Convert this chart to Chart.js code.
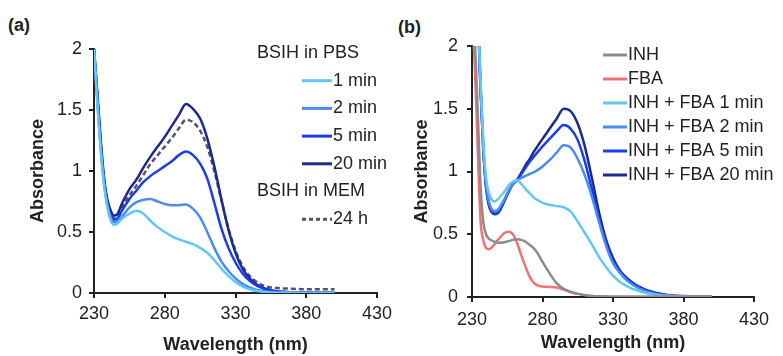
<!DOCTYPE html>
<html>
<head>
<meta charset="utf-8">
<script src="https://cdn.jsdelivr.net/npm/chart.js@4.4.1/dist/chart.umd.min.js"></script>
<style>
  html, body { margin: 0; padding: 0; background: #fff; width: 783px; height: 356px; overflow: hidden;
    font-family: 'Liberation Sans', Arial, sans-serif; }
  canvas { position: absolute; top: 0; }
  .tag { position: absolute; font-weight: bold; font-size: 18px; color: #222; line-height: 20px; }
</style>
</head>
<body>
<div class="tag" style="left:8px;top:15px">(a)</div>
<div class="tag" style="left:398px;top:17px">(b)</div>
<canvas id="chartA" width="420" height="356" style="left:0"></canvas>
<canvas id="chartB" width="413" height="356" style="left:370px"></canvas>
<script>
// ---- data, panel (a): BSIH
const wlA = [230, 232, 234, 236, 238, 240, 242, 244, 246, 250, 255, 260, 265, 270, 275, 280, 285, 290,
  295, 300, 305, 310, 315, 320, 325, 330, 335, 340, 345, 350, 355, 360, 370, 380, 390, 400];
const pbs1min = [2.0, 1.62, 1.28, 1.0, 0.8, 0.67, 0.59, 0.56, 0.565, 0.61, 0.65, 0.675, 0.65, 0.59, 0.54, 0.5, 0.465, 0.44,
  0.42, 0.4, 0.37, 0.33, 0.27, 0.2, 0.14, 0.09, 0.055, 0.03, 0.016, 0.009, 0.005, 0.003, 0.002, 0.001, 0.001, 0.001];
const pbs2min = [2.0, 1.64, 1.3, 1.02, 0.82, 0.69, 0.61, 0.58, 0.585, 0.63, 0.7, 0.745, 0.765, 0.77, 0.75, 0.73, 0.72, 0.72,
  0.725, 0.69, 0.62, 0.5, 0.37, 0.26, 0.18, 0.12, 0.075, 0.045, 0.025, 0.015, 0.008, 0.005, 0.003, 0.002, 0.002, 0.002];
const pbs5min = [2.0, 1.66, 1.32, 1.04, 0.84, 0.71, 0.63, 0.6, 0.605, 0.68, 0.77, 0.84, 0.91, 0.96, 1.0, 1.04, 1.08, 1.13,
  1.16, 1.13, 1.06, 0.94, 0.74, 0.53, 0.37, 0.25, 0.16, 0.1, 0.06, 0.035, 0.02, 0.012, 0.006, 0.004, 0.003, 0.003];
const pbs20min = [2.0, 1.7, 1.38, 1.08, 0.86, 0.74, 0.67, 0.635, 0.64, 0.74, 0.85, 0.93, 1.03, 1.12, 1.2, 1.28, 1.37, 1.46,
  1.55, 1.51, 1.43, 1.27, 1.04, 0.77, 0.52, 0.33, 0.2, 0.12, 0.07, 0.04, 0.022, 0.012, 0.006, 0.004, 0.003, 0.003];
const mem24h = [2.0, 1.68, 1.35, 1.06, 0.85, 0.73, 0.65, 0.615, 0.62, 0.71, 0.8, 0.88, 0.97, 1.06, 1.13, 1.2, 1.27, 1.35,
  1.42, 1.4, 1.33, 1.2, 1.0, 0.76, 0.53, 0.35, 0.22, 0.14, 0.09, 0.06, 0.045, 0.04, 0.035, 0.03, 0.03, 0.03];

// ---- data, panel (b): INH + FBA
const wlB = [230, 232, 234, 236, 238, 240, 242, 244, 246, 248, 250, 253, 256, 259, 262, 265, 268, 271, 274, 277,
  280, 285, 290, 295, 300, 305, 310, 315, 320, 325, 330, 335, 340, 345, 350, 355, 360, 370, 380, 390, 400];
const inh = [2.4, 2.05, 1.5, 0.9, 0.6, 0.5, 0.465, 0.45, 0.44, 0.435, 0.433, 0.437, 0.445, 0.455, 0.46, 0.455, 0.44, 0.415, 0.385, 0.34,
  0.28, 0.19, 0.11, 0.065, 0.04, 0.025, 0.015, 0.008, 0.005, 0.003, 0.002, 0.001, 0.001, 0.001, 0.001, 0.001, 0.001, 0.001, 0.001, 0.001, 0.001];
const fba = [2.2, 1.85, 1.2, 0.62, 0.45, 0.39, 0.38, 0.395, 0.42, 0.45, 0.475, 0.51, 0.52, 0.5, 0.43, 0.33, 0.24, 0.16, 0.11, 0.09,
  0.083, 0.08, 0.075, 0.06, 0.04, 0.025, 0.015, 0.008, 0.004, 0.003, 0.002, 0.001, 0.001, 0.001, 0.001, 0.001, 0.001, 0.001, 0.001, 0.001, 0.001];
const mix1min = [3.0, 2.7, 2.3, 1.75, 1.25, 0.95, 0.83, 0.775, 0.76, 0.775, 0.8, 0.84, 0.89, 0.92, 0.93, 0.9, 0.86, 0.825, 0.79, 0.77,
  0.75, 0.735, 0.725, 0.715, 0.68, 0.6, 0.51, 0.42, 0.32, 0.24, 0.17, 0.12, 0.085, 0.06, 0.042, 0.028, 0.018, 0.008, 0.004, 0.002, 0.002];
const mix2min = [3.0, 2.7, 2.3, 1.7, 1.2, 0.9, 0.76, 0.7, 0.685, 0.69, 0.72, 0.78, 0.85, 0.9, 0.93, 0.95, 0.965, 0.98, 0.995, 1.015,
  1.04, 1.09, 1.15, 1.21, 1.19, 1.1, 0.97, 0.8, 0.6, 0.41, 0.27, 0.19, 0.13, 0.09, 0.06, 0.04, 0.025, 0.01, 0.005, 0.003, 0.002];
const mix5min = [3.0, 2.7, 2.3, 1.68, 1.18, 0.88, 0.74, 0.68, 0.665, 0.67, 0.7, 0.77, 0.84, 0.9, 0.93, 0.98, 1.03, 1.08, 1.12, 1.16,
  1.2, 1.26, 1.32, 1.37, 1.34, 1.25, 1.08, 0.86, 0.63, 0.43, 0.29, 0.2, 0.14, 0.1, 0.07, 0.045, 0.03, 0.012, 0.006, 0.003, 0.002];
const mix20min = [3.0, 2.7, 2.3, 1.68, 1.18, 0.87, 0.73, 0.675, 0.66, 0.665, 0.695, 0.765, 0.84, 0.9, 0.935, 0.99, 1.05, 1.1, 1.16, 1.21,
  1.26, 1.34, 1.42, 1.5, 1.48, 1.38, 1.2, 0.95, 0.68, 0.46, 0.31, 0.21, 0.15, 0.105, 0.075, 0.05, 0.035, 0.015, 0.007, 0.004, 0.003];

const xTicks = [230, 280, 330, 380, 430];
const yTicks = [0, 0.5, 1, 1.5, 2];

const FONT = "'Liberation Sans', Arial, sans-serif";
const INK = '#222';
Chart.defaults.font.family = FONT;
Chart.defaults.font.size = 18;
Chart.defaults.color = INK;

function pts (xs, ys) {
  return xs.map((x, i) => ({ x: x, y: ys[i] }));
}

function line (label, xs, ys, color, dash) {
  return {
    label: label,
    data: pts(xs, ys),
    borderColor: color,
    backgroundColor: color,
    borderWidth: 2.5,
    borderDash: dash || [],
    pointRadius: 0,
    cubicInterpolationMode: 'monotone',
    fill: false
  };
}

// legend drawn beside the curves, with group headings
const sideLegend = {
  id: 'sideLegend',
  afterDraw (chart, args, opts) {
    const ctx = chart.ctx;
    ctx.save();
    ctx.font = '18px ' + FONT;
    ctx.fillStyle = INK;
    ctx.textBaseline = 'middle';
    opts.rows.forEach((row, k) => {
      const y = opts.top + k * opts.step;
      if (typeof row === 'string') {
        ctx.fillText(row, opts.headX, y);
        return;
      }
      const ds = chart.data.datasets[row];
      ctx.strokeStyle = ds.borderColor;
      ctx.lineWidth = 3;
      ctx.setLineDash(ds.borderDash.length ? [4, 3] : []);
      ctx.beginPath();
      ctx.moveTo(opts.lineX, y);
      ctx.lineTo(opts.lineX + opts.lineLen, y);
      ctx.stroke();
      ctx.setLineDash([]);
      ctx.fillText(ds.label, opts.textX, y);
    });
    ctx.restore();
  }
};

function makeOptions (p) {
  const axisLine = { display: true, color: INK, width: 2 };
  return {
    responsive: false,
    animation: false,
    devicePixelRatio: 1,
    layout: { padding: p.padding },
    plugins: {
      legend: { display: false },
      tooltip: { enabled: false },
      sideLegend: p.legend
    },
    scales: {
      x: {
        type: 'linear',
        min: 230,
        max: 430,
        afterBuildTicks: (s) => { s.ticks = xTicks.map(v => ({ value: v })); },
        afterFit: (s) => { s.height = p.xHeight; },
        border: axisLine,
        grid: { display: true, drawOnChartArea: false, drawTicks: true, tickLength: 5, color: INK, lineWidth: 2 },
        ticks: { padding: p.xPad, maxRotation: 0, autoSkip: false, font: { size: 18 }, callback: (v) => String(v) },
        title: { display: true, text: 'Wavelength (nm)', padding: { top: 0, bottom: 0 }, font: { size: 18, weight: 'bold' } }
      },
      y: {
        min: 0,
        max: 2,
        afterBuildTicks: (s) => { s.ticks = yTicks.map(v => ({ value: v })); },
        afterFit: (s) => { s.width = p.yWidth; },
        border: axisLine,
        grid: { display: true, drawOnChartArea: false, drawTicks: true, tickLength: 5, color: INK, lineWidth: 2 },
        ticks: { padding: p.yPad, font: { size: 18 }, callback: (v) => String(v) },
        title: { display: true, text: 'Absorbance', padding: { top: 4, bottom: 4 }, font: { size: 18, weight: 'bold' } }
      }
    }
  };
}

new Chart(document.getElementById('chartA'), {
  type: 'line',
  data: {
    datasets: [
      line('1 min', wlA, pbs1min, '#63c7f2'),
      line('2 min', wlA, pbs2min, '#4a8cf0'),
      line('5 min', wlA, pbs5min, '#1a3cec'),
      line('20 min', wlA, pbs20min, '#1c2a8a'),
      line('24 h', wlA, mem24h, '#5b4d6e', [5, 3])
    ]
  },
  options: makeOptions({
    padding: { left: 23, right: 43, top: 49, bottom: 0 },
    yWidth: 71, xHeight: 63, xPad: 5, yPad: 7,
    legend: { rows: ['BSIH in PBS', 0, 1, 2, 3, 'BSIH in MEM', 4],
      headX: 257, lineX: 302, lineLen: 30, textX: 333, top: 53, step: 27.7 }
  }),
  plugins: [sideLegend]
});

new Chart(document.getElementById('chartB'), {
  type: 'line',
  data: {
    datasets: [
      line('INH', wlB, inh, '#8c8c8c'),
      line('FBA', wlB, fba, '#f07272'),
      line('INH + FBA 1 min', wlB, mix1min, '#63c7f2'),
      line('INH + FBA 2 min', wlB, mix2min, '#4a8cf0'),
      line('INH + FBA 5 min', wlB, mix5min, '#1a3cec'),
      line('INH + FBA 20 min', wlB, mix20min, '#1c2a8a')
    ]
  },
  options: makeOptions({
    padding: { left: 37, right: 29, top: 46, bottom: 2 },
    yWidth: 65, xHeight: 57, xPad: 7, yPad: 9,
    legend: { rows: [0, 1, 2, 3, 4, 5],
      headX: 0, lineX: 233, lineLen: 24, textX: 258, top: 55, step: 24 }
  }),
  plugins: [sideLegend]
});
</script>
</body>
</html>
